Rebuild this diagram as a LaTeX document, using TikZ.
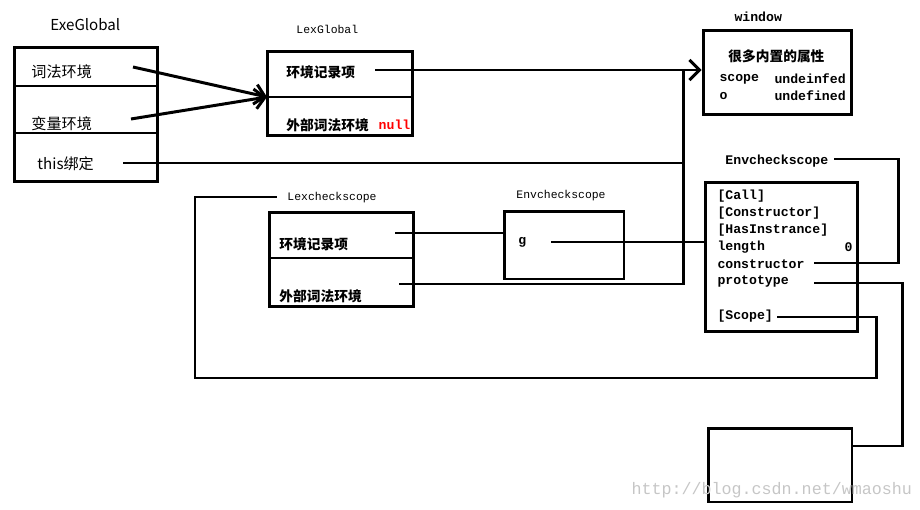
\documentclass[tikz,border=0pt]{standalone}
\usepackage{fontspec}
\setmonofont{Liberation Mono}
\newfontfamily\cjk{Noto Sans CJK SC}
\usetikzlibrary{positioning, arrows.meta}

\begin{document}
\begin{tikzpicture}[x=0.02cm, y=-0.02cm, line width=1.7pt, every node/.style={inner sep=0pt, anchor=west}, arrow/.style={-{Straight Barb[length=2mm, width=4mm]}}]
        \tikzstyle{record} = [rectangle, draw=black, line width=1.7pt, anchor=center]
        \tikzstyle{cnlabel} = [font=\cjk\fontsize{8.6}{10}\selectfont]
        \tikzstyle{cnbold} = [font=\cjk\bfseries\fontsize{7.8}{9}\selectfont]
        \tikzstyle{monolabel} = [font=\ttfamily\fontsize{6.5}{8}\selectfont]
        \tikzstyle{monobold} = [font=\ttfamily\bfseries\fontsize{7.5}{9}\selectfont]

        \useasboundingbox (0,0) rectangle (920,510);

        \node[record, minimum width=2.88cm, minimum height=2.7cm] (exe) at (86,114.5) {};
        \node[record, minimum width=2.92cm, minimum height=1.7cm] (lexg) at (340,93.5) {};
        \node[record, minimum width=2.98cm, minimum height=1.7cm] (win) at (777.5,72.5) {};
        \node[record, minimum width=2.9cm, minimum height=1.9cm] (lexc) at (341.5,259.5) {};
        \node[record, minimum width=2.4cm, minimum height=1.36cm] (envc) at (564,245) {};
        \node[record, minimum width=3.06cm, minimum height=3.0cm] (func) at (781.5,257) {};
        \node[record, minimum width=2.88cm, minimum height=1.48cm] (protobox) at (780,465) {};

        \coordinate (exediv1) at (14,86);
        \coordinate (exediv2) at (14,133);
        \coordinate (lexgdiv) at (267,97);
        \coordinate (lexcdiv) at (269,258);
        \draw (exediv1) -- (exediv1 -| exe.east);
        \draw (exediv2) -- (exediv2 -| exe.east);
        \draw (lexgdiv) -- (lexgdiv -| lexg.east);
        \draw (lexcdiv) -- (lexcdiv -| lexc.east);

        \node[cnlabel] (exename) at (49,25) {ExeGlobal};
        \node[cnlabel] (cifa) at (30,72) {词法环境};
        \node[cnlabel] (bianliang) at (30,124) {变量环境};
        \node[cnlabel] (thisbind) at (36,164) {this绑定};

        \node[monolabel] (lexgname) at (295,29) {LexGlobal};
        \node[cnbold] (lexgrec) at (285,72) {环境记录项};
        \node[cnbold] (lexgouter) at (285,125) {外部词法环境};
        \node[monobold, text=red, right=0.14cm of lexgouter] (lexgnull) {null};

        \node[monobold] (winname) at (733,17) {window};
        \node[cnbold] (winprops) at (727,56) {很多内置的属性};
        \node[monobold] (scopekey) at (718,79) {scope};
        \node[monobold] (scopeval) at (773,79) {undeinfed};
        \node[monobold] (okey) at (718,96) {o};
        \node[monobold] (oval) at (773,96) {undefined};

        \node[monolabel] (lexcname) at (286,198) {Lexcheckscope};
        \node[cnbold] (lexcrec) at (278,244) {环境记录项};
        \node[cnbold] (lexcouter) at (278,296) {外部词法环境};

        \node[monolabel] (envcname) at (515,196) {Envcheckscope};
        \node[monobold] (gvar) at (517,242) {g};

        \node[monobold] (funcname) at (724,161) {Envcheckscope};
        \node[monobold] (call) at (716,196) {[Call]};
        \node[monobold] (construct) at (716,213) {[Constructor]};
        \node[monobold] (hasinst) at (716,230) {[HasInstrance]};
        \node[monobold] (length) at (716,247) {length};
        \node[monobold] (lengthval) at (843,247) {0};
        \node[monobold] (ctor) at (716,264) {constructor};
        \node[monobold] (proto) at (716,281) {prototype};
        \node[monobold] (scopeslot) at (716,316) {[Scope]};

        \coordinate (cifaout) at (133,67);
        \coordinate (bianout) at (131,119);
        \coordinate (thisout) at (123,163);
        \coordinate (lexgrecout) at (375,70);
        \coordinate (bus) at (683,70);
        \coordinate (lexcrecout) at (395,233);
        \coordinate (lexcouterout) at (399,284);
        \coordinate (gout) at (551,242);
        \coordinate (envout) at (834,159);
        \coordinate (ctorout) at (814,263);
        \coordinate (ctorturn) at (898,263);
        \coordinate (protoout) at (814,283);
        \coordinate (prototurn) at (902,446);
        \coordinate (scopeout) at (777,317);
        \coordinate (scopeturn) at (876,378);
        \coordinate (scopeback) at (195,197);
        \coordinate (scopeend) at (277,197);

        \draw[arrow] (cifaout) -- (lexgdiv);
        \draw[arrow] (bianout) -- (lexgdiv);
        \draw[arrow] (lexgrecout) -- (lexgrecout -| win.west);
        \draw (thisout) -- (thisout -| bus);
        \draw (lexcouterout) -| (bus);
        \draw (lexcrecout) -- (lexcrecout -| envc.west);
        \draw (gout) -- (gout -| func.west);
        \draw (envout) -| (ctorturn) -- (ctorout);
        \draw (protoout) -| (prototurn) -- (prototurn -| protobox.east);
        \draw (scopeout) -| (scopeturn) -| (scopeback) -- (scopeend);

        \node[font=\ttfamily\fontsize{9.5}{11}\selectfont, text=gray!45] (mark) at (630,490) {http://blog.csdn.net/wmaoshu};
    \end{tikzpicture}
\end{document}
